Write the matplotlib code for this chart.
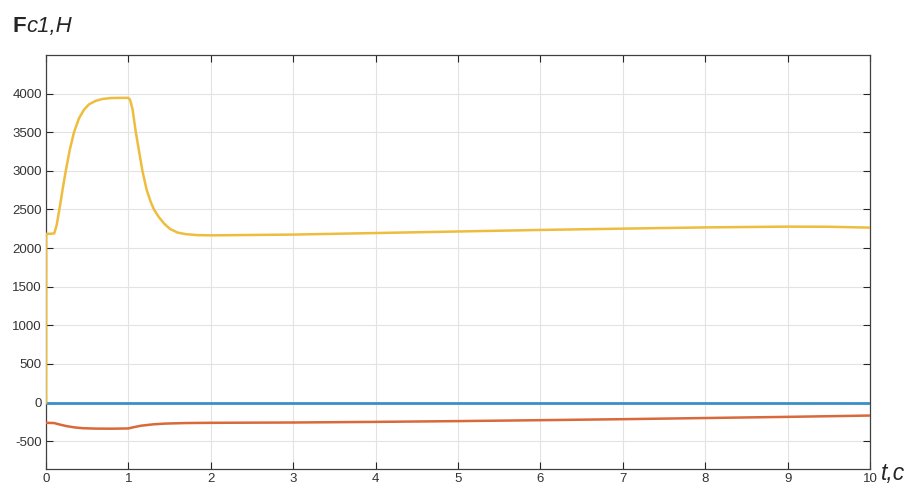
import matplotlib
matplotlib.use("Agg")
import matplotlib.pyplot as plt
import numpy as np

# Data
t_yellow = [0.0, 0.002, 0.05, 0.10, 0.13, 0.17, 0.20, 0.24, 0.29, 0.34, 0.40, 0.46, 0.52, 0.60,
            0.68, 0.78, 0.90, 1.00, 1.02, 1.05, 1.09, 1.13, 1.17, 1.22, 1.27, 1.31, 1.37,
            1.44, 1.51, 1.60, 1.70, 1.84, 2.0, 3.0, 4.0, 5.0, 6.0, 7.0, 8.0, 9.0, 9.5, 10.0]
v_yellow = [0, 2185, 2185, 2190, 2300, 2550, 2750, 3000, 3280, 3500, 3680, 3790, 3860, 3905,
            3930, 3942, 3945, 3945, 3920, 3800, 3500, 3250, 3000, 2760, 2600, 2500, 2400,
            2310, 2245, 2200, 2180, 2168, 2165, 2175, 2195, 2215, 2235, 2252, 2268, 2278, 2276, 2265]

t_red = [0.0, 0.10, 0.15, 0.25, 0.35, 0.45, 0.60, 0.80, 1.00, 1.05, 1.15, 1.30, 1.45,
         1.70, 2.0, 3.0, 4.0, 5.0, 6.0, 7.0, 8.0, 9.0, 10.0]
v_red = [-262, -265, -280, -305, -322, -332, -337, -338, -335, -322, -300, -282, -272,
         -265, -262, -258, -250, -240, -228, -215, -200, -185, -168]

t_blue = [0.0, 10.0]
v_blue = [0, 0]

x_ticks = list(range(0, 11))
y_ticks = [-500, 0, 500, 1000, 1500, 2000, 2500, 3000, 3500, 4000]

fig = plt.figure(figsize=(9.08, 4.84), dpi=100)
ax = fig.add_axes([46 / 908, 15 / 484, 824 / 908, 414 / 484])

c_blue = "#3a8fc8"
c_red = "#d9683a"
c_yellow = "#eebd3e"

ax.plot(t_blue, v_blue, color=c_blue, lw=2.0, zorder=3)
ax.plot(t_red, v_red, color=c_red, lw=1.8, zorder=3)
ax.plot(t_yellow, v_yellow, color=c_yellow, lw=1.8, zorder=4)

ax.set_xlim(0, 10)
ax.set_ylim(-860, 4500)
ax.set_xticks(x_ticks)
ax.set_yticks(y_ticks)
ax.set_xticklabels([str(v) for v in x_ticks], fontsize=9.5, color="#333333", family="Liberation Sans")
ax.set_yticklabels([str(v) for v in y_ticks], fontsize=9.5, color="#333333", family="Liberation Sans")
ax.grid(True, color="#e3e3e3", lw=0.8)
ax.set_axisbelow(True)
ax.tick_params(direction="in", top=True, right=True, length=5, width=0.8, color="#262626", pad=3)
for s in ax.spines.values():
    s.set_color("#404040")
    s.set_linewidth(0.9)

fig.text(12 / 908, 1 - 32 / 484, "F", fontsize=16, fontweight="bold", family="Liberation Sans",
         color="#262626", va="baseline")
fig.text(26 / 908, 1 - 32 / 484, "c1,H", fontsize=16, style="italic", family="Liberation Sans",
         color="#262626", va="baseline")
fig.text(881 / 908, 1 - 480 / 484, "t,c", fontsize=16.5, style="italic", family="Liberation Sans",
         color="#262626", va="baseline")

fig.savefig("out.png", dpi=100)
